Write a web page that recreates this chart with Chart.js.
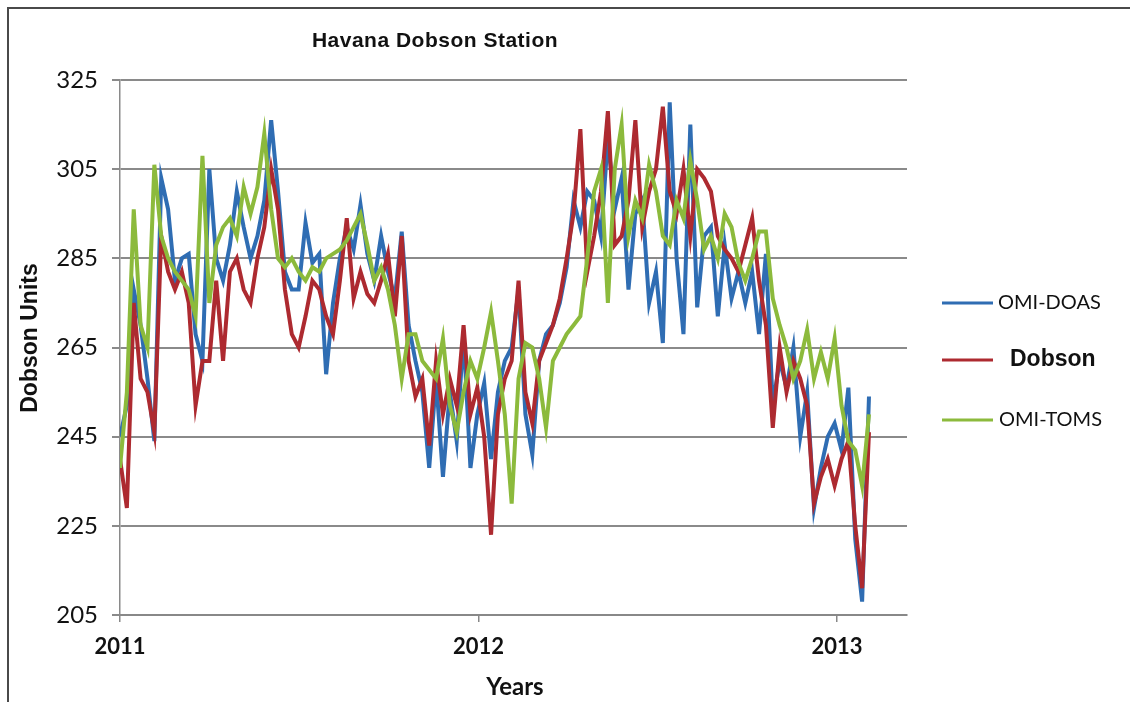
<!DOCTYPE html>
<html><head><meta charset="utf-8">
<script src="https://cdn.jsdelivr.net/npm/chart.js@4.4.0/dist/chart.umd.min.js"></script>
<style>html,body{margin:0;padding:0;background:#fff;} canvas{display:block;}</style>
</head><body>
<canvas id="c" width="1130" height="702"></canvas>
<script>
const chartTitle = 'Havana Dobson Station';
const xTitle = 'Years';
const yTitle = 'Dobson Units';
const yearTicks = [2011, 2012, 2013];
const yTicks = [205, 225, 245, 265, 285, 305, 325];
const seriesNames = ['OMI-DOAS', 'Dobson', 'OMI-TOMS'];
const seriesColors = ['#2f6db3', '#ad2a30', '#8cba3c'];
const firstYear = 2011;
const weekStep = 7 / 365.25;

const omiDoas = [245,252,278,270,258,244,303,296,280,285,
286,268,262,305,285,280,288,300,292,285,
290,298,316,300,282,278,278,293,284,286,
259,275,285,292,287,297,286,280,290,282,
276,291,270,262,255,238,258,236,255,244,
268,238,250,257,240,255,262,265,278,250,
241,262,268,270,275,283,298,292,300,298,
290,312,296,303,278,295,298,275,282,266,
320,285,268,315,274,290,292,272,288,276,
282,275,282,268,286,252,262,256,265,245,
255,229,238,245,248,242,256,222,208,254];

const dobson = [240,229,275,258,255,246,290,282,278,282,
275,252,262,262,280,262,282,285,278,275,
285,292,305,296,278,268,265,272,280,278,
272,268,280,294,276,282,277,275,280,286,
272,290,262,254,258,243,262,250,258,252,
270,250,256,245,223,250,258,262,280,255,
248,262,266,270,276,285,295,314,282,290,
300,318,288,290,298,316,292,300,305,319,
300,295,305,290,305,303,300,290,287,285,
282,288,294,280,270,247,265,255,262,258,
252,230,236,240,234,240,244,225,211,246];

const omiToms = [238,255,296,270,265,306,290,285,282,280,
278,272,308,275,288,292,294,290,301,295,
301,313,296,285,283,285,282,280,283,282,
285,286,287,289,292,295,288,280,283,278,
270,258,268,268,262,260,258,267,252,246,
255,262,258,265,273,262,250,230,258,266,
265,258,247,262,265,268,270,272,285,300,
305,275,305,315,290,298,294,306,300,290,
288,298,294,307,298,287,290,285,295,292,
284,280,285,291,291,276,270,265,258,262,
269,258,264,258,267,252,244,242,234,250];

const seriesValues = [omiDoas, dobson, omiToms];
const drawOrder = [2, 1, 0];

const datasets = seriesValues.map((vals, k) => ({
  label: seriesNames[k],
  data: vals.map((v, i) => ({ x: firstYear + i * weekStep, y: v })),
  borderColor: seriesColors[k],
  borderWidth: 4,
  pointRadius: 0,
  tension: 0,
  fill: false,
  order: drawOrder[k]
}));

const decor = {
  id: 'decor',
  afterDraw(chart) {
    const ctx = chart.ctx;
    ctx.save();
    ctx.strokeStyle = '#4a4a4a';
    ctx.lineWidth = 2;
    ctx.beginPath();
    ctx.moveTo(8, 702); ctx.lineTo(8, 8); ctx.lineTo(1130, 8);
    ctx.stroke();
    ctx.fillStyle = '#111';
    ctx.textAlign = 'center';
    ctx.textBaseline = 'middle';
    ctx.font = 'bold 21px "Liberation Sans", Arial, sans-serif';
    ctx.letterSpacing = '0.5px';
    ctx.fillText(chartTitle, 435, 41);
    ctx.letterSpacing = '0px';
    ctx.font = 'bold 24px Lato, sans-serif';
    ctx.fillText(xTitle, 515, 687);
    ctx.save();
    ctx.translate(31, 338);
    ctx.rotate(-Math.PI / 2);
    ctx.font = 'bold 23px "Liberation Sans", Arial, sans-serif';
    ctx.fillText(yTitle, 0, 0);
    ctx.restore();
    const rows = [
      { y: 303, textX: 998, font: '20px Lato, sans-serif' },
      { y: 360, textX: 1010, font: 'bold 23px "Liberation Sans", Arial, sans-serif' },
      { y: 420, textX: 999, font: '20px Lato, sans-serif' }
    ];
    rows.forEach((r, k) => {
      ctx.strokeStyle = seriesColors[k];
      ctx.lineWidth = 3;
      ctx.beginPath();
      ctx.moveTo(942, r.y); ctx.lineTo(993, r.y);
      ctx.stroke();
      ctx.font = r.font;
      ctx.textAlign = 'left';
      ctx.fillStyle = '#111';
      ctx.fillText(seriesNames[k], r.textX, r.y);
    });
    ctx.restore();
  }
};

new Chart(document.getElementById('c'), {
  type: 'line',
  data: { datasets },
  options: {
    responsive: false,
    animation: false,
    devicePixelRatio: 1,
    layout: { padding: { left: 0, right: 223, top: 80, bottom: 0 } },
    plugins: { legend: { display: false }, title: { display: false }, tooltip: { enabled: false } },
    scales: {
      x: {
        type: 'linear',
        min: 2011,
        max: 2013.195,
        afterBuildTicks: s => { s.ticks = yearTicks.map(v => ({ value: v })); },
        afterFit: s => { s.height = 87; },
        ticks: {
          font: { family: 'Lato', weight: 'bold', size: 22 },
          color: '#111',
          padding: 12,
          maxRotation: 0,
          callback: v => String(v)
        },
        grid: { drawOnChartArea: false, drawTicks: true, tickLength: 7, color: '#888', lineWidth: 1.5 },
        border: { display: true, color: '#888', width: 2 }
      },
      y: {
        min: 205,
        max: 325,
        afterBuildTicks: s => { s.ticks = yTicks.map(v => ({ value: v })); },
        afterFit: s => { s.width = 120; },
        ticks: {
          font: { family: 'Lato', size: 24 },
          color: '#111',
          padding: 14
        },
        grid: { color: '#8a8a8a', lineWidth: 2, tickLength: 8, drawTicks: true },
        border: { display: true, color: '#8a8a8a', width: 1.5 }
      }
    }
  },
  plugins: [decor]
});
</script>
</body></html>
